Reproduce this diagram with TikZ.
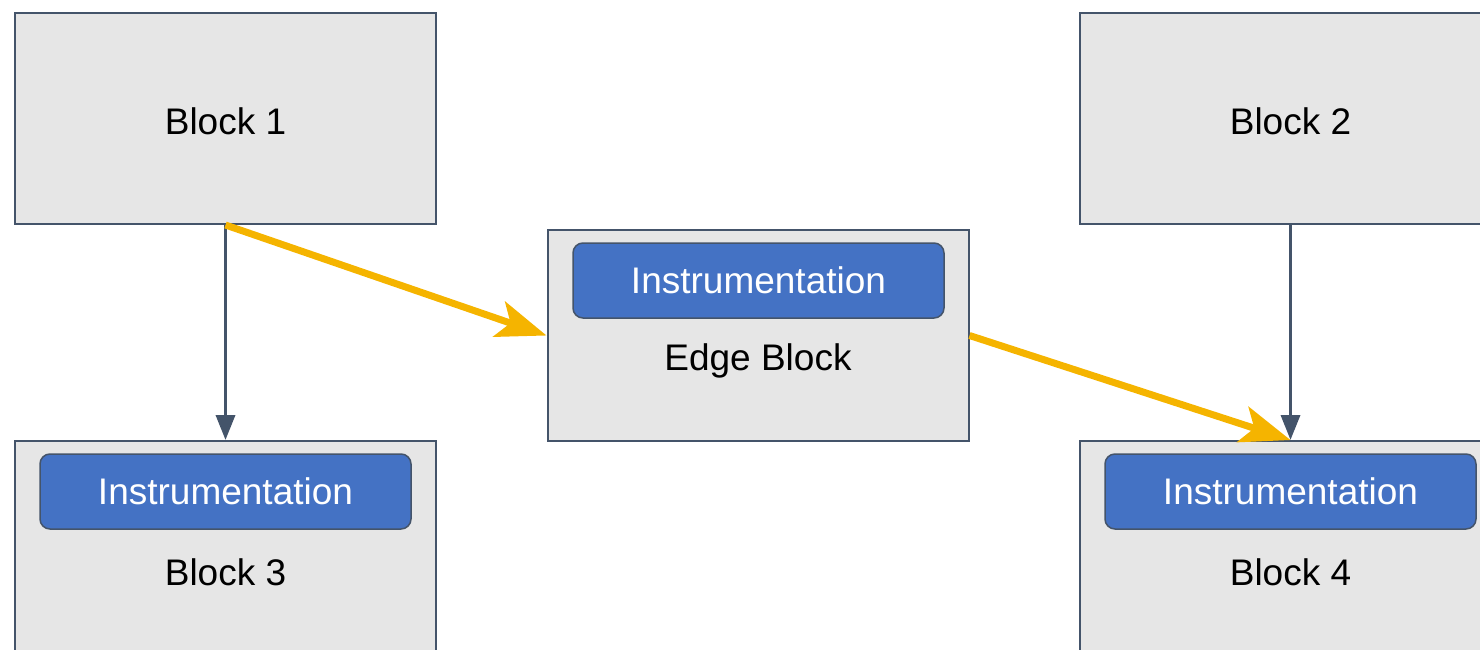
\documentclass[tikz,border=0pt]{standalone}
\usepackage{fontspec}
\setmainfont{Liberation Sans}
\usetikzlibrary{arrows.meta}
\definecolor{slate}{HTML}{44546A}
\definecolor{blockgray}{HTML}{E6E6E6}
\definecolor{instblue}{HTML}{4472C4}
\definecolor{amber}{HTML}{F5B400}
\tikzset{
	block/.style = {draw = slate, line width = 1pt, fill = blockgray, minimum width = 210.5pt, minimum height = 105.5pt, inner sep = 0pt},
	inst/.style = {draw = slate, line width = 0.75pt, fill = instblue, rounded corners = 5pt, minimum width = 185.5pt, minimum height = 37.5pt, inner sep = 0pt, text = white, font = \fontsize{18.5}{22}\selectfont},
	lbl/.style = {font = \fontsize{18.5}{22}\selectfont},
	link/.style = {draw = slate, line width = 1.75pt, -{Triangle[length = 12.5pt, width = 9.5pt]}},
	flow/.style = {draw = amber, line width = 3.5pt, -{Stealth[length = 25pt, width = 18.5pt, inset = 6pt]}}
}

\begin{document}
\begin{tikzpicture}[x = 0.5pt, y = -0.5pt]

\useasboundingbox (0,0) rectangle (1480,649);
\clip (0,0) rectangle (1480,649);

% blocks
\node[block] (b1) at (225.5,118.5) {};
\node[block] (b2) at (1290.5,118.5) {};
\node[block] (b3) at (225.5,546.5) {};
\node[block] (b4) at (1290.5,546.5) {};
\node[block] (edge) at (758,335.5) {};

% instrumentation bars
\node[inst] (i3) at (225.5,491.5) {Instrumentation};
\node[inst] (i4) at (1290.5,491.5) {Instrumentation};
\node[inst] (ie) at (758.5,280.5) {Instrumentation};

% block names
\node[lbl] (t1) at (225.5,121) {Block 1};
\node[lbl] (t2) at (1290.5,121) {Block 2};
\node[lbl] (t3) at (225.5,572) {Block 3};
\node[lbl] (t4) at (1290.5,572) {Block 4};
\node[lbl] (te) at (758,361) {Edge Block};

\draw[link] (b1.south) -- (b3.north);
\draw[link] (b2.south) -- (b4.north);

\draw[flow] (b1.south) -- (edge.west);
\draw[flow] (edge.east) -- (b4.north);
\end{tikzpicture}
\end{document}
